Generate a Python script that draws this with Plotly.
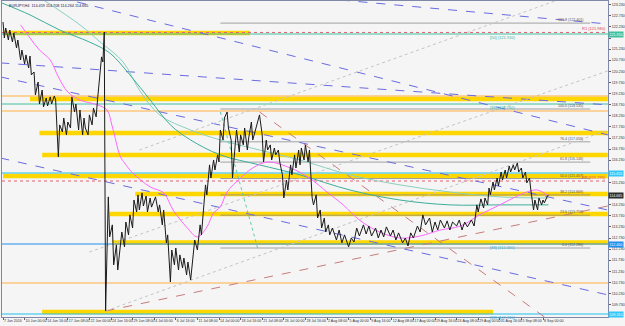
import plotly.graph_objects as go

# ---------------- data ----------------
# x axis: H4 bar index (0 = 7 Jun 2016), labels every 16 bars
x_tick_bars = [0, 16, 32, 48, 64, 80, 96, 112, 128, 144, 160, 176, 192, 208, 224,
               240, 256, 272, 288, 304, 320, 336, 352, 368, 384, 400]
x_tick_text = ["7 Jun 2016", "10 Jun 00:00", "14 Jun 16:00", "17 Jun 08:00", "22 Jun 00:00",
               "24 Jun 16:00", "29 Jun 08:00", "4 Jul 00:00", "6 Jul 16:00", "11 Jul 08:00",
               "14 Jul 00:00", "18 Jul 16:00", "21 Jul 08:00", "26 Jul 00:00", "28 Jul 16:00",
               "2 Aug 08:00", "5 Aug 00:00", "9 Aug 16:00", "12 Aug 08:00", "17 Aug 00:00",
               "19 Aug 16:00", "24 Aug 08:00", "29 Aug 00:00", "31 Aug 16:00", "5 Sep 08:00",
               "8 Sep 00:00"]
y_tick_vals = [123.230, 122.730, 122.230, 121.730, 121.230, 120.730, 120.230, 119.730,
               119.230, 118.730, 118.230, 117.730, 117.230, 116.730, 116.230, 115.730,
               115.230, 114.730, 114.230, 113.730, 113.230, 112.730, 112.230, 111.730,
               111.230, 110.730, 110.230, 109.730]

# EURJPY H4 price path (swing highs / lows)
price_bar = [0, 1, 2, 4, 5, 7, 8, 10, 11, 13, 14, 16, 17, 19, 20, 21, 23, 24, 26, 27, 29, 30, 32, 33,
             35, 36, 38, 39, 41, 42, 44, 45, 47, 48, 50, 51, 53, 54, 56, 57, 59, 60, 61, 63, 64, 66,
             67, 69, 70, 72, 73, 74, 75, 76, 77, 78, 79, 81, 82, 84, 85, 87, 88, 90, 91, 93, 94, 96,
             97, 99, 100, 101, 103, 104, 106, 107, 109, 110, 113, 115, 116, 118, 119, 121, 122, 124,
             125, 127, 128, 130, 131, 133, 134, 136, 137, 139, 140, 142, 144, 146, 147, 149, 150, 151,
             153, 154, 156, 157, 159, 160, 161, 163, 164, 166, 167, 169, 170, 172, 173, 175, 176, 178,
             179, 181, 182, 184, 185, 187, 189, 190, 192, 193, 195, 196, 198, 199, 201, 202, 204, 205,
             207, 208, 210, 211, 213, 214, 216, 217, 219, 220, 221, 223, 224, 226, 227, 229, 230, 232,
             233, 235, 236, 238, 239, 241, 242, 244, 247, 249, 251, 253, 256, 258, 260, 262, 264, 267,
             269, 271, 273, 276, 278, 280, 282, 284, 287, 289, 291, 293, 296, 298, 300, 302, 304, 307,
             309, 311, 313, 316, 318, 320, 322, 324, 327, 329, 331, 333, 336, 338, 340, 342, 344, 347,
             349, 351, 352, 354, 356, 357, 359, 360, 361, 363, 364, 366, 367, 369, 370, 372, 373, 375,
             376, 378, 379, 381, 382, 384, 385, 387, 388, 390, 391, 393, 394, 396, 397, 399, 400, 401,
             403, 404]
price_val = [122.45, 121.73, 122.18, 121.64, 122.09, 121.55, 121.96, 121.28, 121.64, 120.74, 121.19,
             120.56, 120.97, 120.38, 120.92, 120.07, 120.20, 119.17, 119.75, 118.76, 119.39, 118.63,
             119.03, 118.67, 119.08, 118.76, 119.12, 118.94, 116.38, 117.82, 117.50, 118.13, 117.37,
             117.95, 117.68, 119.08, 118.40, 118.76, 117.59, 118.49, 117.37, 118.13, 117.68, 117.37,
             118.27, 117.82, 118.58, 118.18, 118.94, 120.29, 120.88, 120.65, 122.00, 109.45, 112.19,
             114.58, 112.78, 113.32, 111.52, 112.42, 111.29, 112.64, 113.00, 112.33, 113.45, 112.87,
             113.77, 113.18, 114.44, 113.90, 114.67, 113.99, 114.76, 114.17, 114.62, 113.90, 114.53,
             114.12, 114.58, 113.90, 114.22, 113.32, 113.99, 112.51, 112.87, 110.75, 112.19, 111.52,
             112.28, 111.29, 111.97, 111.38, 111.83, 111.07, 111.65, 110.84, 111.52, 112.64, 112.19,
             113.32, 112.87, 114.22, 115.12, 114.67, 116.02, 115.43, 116.24, 115.79, 116.47, 116.15,
             117.59, 117.14, 118.13, 118.40, 117.68, 117.14, 115.43, 116.92, 117.59, 116.60, 117.37,
             116.92, 117.68, 116.69, 117.23, 117.95, 117.14, 117.59, 118.13, 118.27, 117.37, 116.15,
             117.14, 116.69, 116.92, 116.24, 116.78, 116.47, 116.69, 116.15, 115.57, 114.53, 115.34,
             114.89, 116.02, 115.57, 116.47, 115.88, 116.69, 116.02, 116.78, 116.24, 116.92, 116.15,
             116.69, 114.53, 114.22, 114.67, 113.63, 113.99, 113.18, 113.63, 113.00, 113.32, 112.87,
             113.18, 112.64, 113.09, 112.51, 112.87, 112.33, 112.73, 112.55, 113.18, 112.82, 113.32,
             112.91, 113.27, 112.82, 113.18, 112.73, 113.09, 112.78, 113.23, 112.82, 113.09, 112.64,
             112.96, 112.51, 112.73, 112.37, 112.96, 112.73, 113.27, 113.00, 113.77, 113.32, 113.63,
             113.00, 113.45, 113.09, 113.54, 113.18, 113.50, 113.09, 113.45, 113.27, 113.54, 113.09,
             113.45, 113.23, 113.54, 113.27, 114.22, 113.90, 114.49, 114.08, 114.53, 114.22, 114.98,
             114.67, 115.25, 114.89, 115.43, 115.07, 115.70, 115.34, 115.79, 115.43, 115.97, 115.70,
             116.02, 115.79, 116.11, 115.70, 115.88, 115.43, 115.70, 115.21, 115.43, 114.89, 113.99,
             114.44, 113.99, 114.53, 114.22, 114.44, 114.31, 114.58, 114.67]

# moving averages
ma_pink_bar = [13, 20, 27, 35, 41, 48, 57, 70, 77, 81, 87, 90, 96, 109, 119, 126, 136, 144, 151, 156,
               161, 166, 176, 185, 196, 213, 227, 240, 252, 264, 279, 294, 309, 324, 339, 353, 368,
               378, 388, 396, 403]
ma_pink_val = [122.32, 121.73, 121.19, 120.74, 119.98, 119.30, 118.94, 118.72, 118.49, 117.73, 116.38,
               116.11, 115.66, 115.03, 114.76, 113.99, 113.22, 112.78, 113.22, 113.86, 114.13, 114.80,
               115.43, 115.88, 116.15, 115.88, 115.43, 114.80, 114.22, 113.54, 113.00, 112.73, 112.82,
               113.09, 113.27, 113.77, 114.22, 114.53, 114.80, 114.89, 114.67]
ma_teal1_bar = [-1, 20, 42, 64, 79, 94, 109, 124, 139, 161, 190, 220, 257, 294, 331, 368, 404]
ma_teal1_val = [123.31, 122.77, 122.09, 121.55, 121.06, 120.07, 118.94, 117.82, 117.14, 116.47, 116.02,
                115.57, 114.89, 114.44, 114.22, 114.22, 114.22]
ma_teal2_bar = [30, 57, 72, 89, 101, 116, 139, 161, 190, 220, 257, 294, 331, 368, 404]
ma_teal2_val = [123.44, 122.32, 121.55, 120.65, 119.39, 118.27, 117.59, 117.14, 116.69, 116.24, 115.57,
                115.12, 114.80, 114.58, 114.53]

# support / resistance zones (yellow): price, start bar, end bar
zone_price = [121.955, 118.985, 117.455, 116.465, 115.520, 114.710, 113.810, 112.530, 109.400]
zone_start = [0, 20, 27, 29, 0, 98, 79, 81, 29]
zone_end = [183, 448, 448, 448, 448, 448, 448, 448, 363]

# thin horizontal lines
orange_levels = [119.12, 118.445, 110.705]
teal_levels = [121.91, 118.76]
cyan_levels = [115.655, 109.31]
blue_levels = [112.46]
pivot_levels = [121.98, 115.295]
pivot_names = ["R1", "PP"]

# Fibonacci retracement
fib_low, fib_high = 112.28, 118.535
fib_levels = [0.0, 23.6, 38.2, 50.0, 61.8, 76.4, 100.0, 161.8]
fib_start, fib_end = 161, 435

# trend lines: (bar0, price0, bar1, price1)
blue_trend = [(55, 123.35, 448, 117.37), (250, 123.44, 448, 122.36), (-2, 120.61, 448, 118.72),
              (-2, 119.98, 448, 113.99), (-2, 116.33, 448, 110.17)]
brown_trend = [(76, 109.445, 448, 114.17), (190, 118.40, 401, 109.18)]
grey_trend = [(101, 116.69, 411, 123.44), (64, 112.10, 448, 120.25), (76, 109.445, 448, 117.59)]
teal_trend = [(161, 118.40, 189, 112.19)]

last_price = 114.665
header = "EURJPY,H4  114.459 114.708 114.264 114.665"

# ---------------- figure ----------------
FONT = "Liberation Sans"
fig = go.Figure()


def seg(x0, y0, x1, y1, color, width, dash="solid"):
    fig.add_trace(go.Scatter(x=[x0, x1], y=[y0, y1], mode="lines",
                             line=dict(color=color, width=width, dash=dash),
                             hoverinfo="skip", showlegend=False))


XMIN, XMAX = -0.74, 448.15
for p, a, b in zip(zone_price, zone_start, zone_end):
    seg(a, p, b, p, "#FFD700", 4.5)
for p in orange_levels:
    seg(XMIN, p, XMAX, p, "#FFAF40", 1)
for p in teal_levels:
    seg(XMIN, p, XMAX, p, "#40C0A0", 1)
for p in cyan_levels:
    seg(XMIN, p, XMAX, p, "#20C0F0", 1.2)
for p in blue_levels:
    seg(XMIN, p, XMAX, p, "#2090F0", 1.2)
for p in pivot_levels:
    seg(XMIN, p, XMAX, p, "#E06070", 1, "dot")

rng = fib_high - fib_low
for lv in fib_levels:
    p = fib_low + rng * lv / 100
    seg(fib_start, p, fib_end, p, "#8C8C8C", 0.8)

for t in blue_trend:
    seg(*t, "#6A6AE0", 1, "dash")
for t in brown_trend:
    seg(*t, "#C87C7C", 1, "dash")
for t in grey_trend:
    seg(*t, "#C4C4C4", 1, "dot")
for t in teal_trend:
    seg(*t, "#60C8B0", 1, "dot")

fig.add_trace(go.Scatter(x=ma_teal2_bar, y=ma_teal2_val, mode="lines", line=dict(color="#8CCFC0", width=1),
                         line_shape="spline", hoverinfo="skip", showlegend=False))
fig.add_trace(go.Scatter(x=ma_teal1_bar, y=ma_teal1_val, mode="lines", line=dict(color="#3DAE98", width=1),
                         line_shape="spline", hoverinfo="skip", showlegend=False))
fig.add_trace(go.Scatter(x=ma_pink_bar, y=ma_pink_val, mode="lines", line=dict(color="#FF66FF", width=1),
                         line_shape="spline", hoverinfo="skip", showlegend=False))

fig.add_trace(go.Scatter(x=price_bar, y=price_val, mode="lines", line=dict(color="#1A1A1A", width=1),
                         hoverinfo="skip", showlegend=False))

ann = []
fs = 3.6
for lv in fib_levels:
    p = fib_low + rng * lv / 100
    ann.append(dict(x=fib_end - 4, y=p, xref="x", yref="y", xanchor="right", yanchor="bottom",
                    text=f"{lv:.1f} ({p:.3f})", showarrow=False, yshift=-1,
                    font=dict(size=fs, color="#555555", family=FONT)))
for p, n in zip(pivot_levels, pivot_names):
    ann.append(dict(x=XMAX, y=p, xref="x", yref="y", xanchor="right", yanchor="bottom",
                    text=f"{n} ({p:.3f})", showarrow=False, yshift=-1,
                    font=dict(size=fs + 0.4, color="#E04050", family=FONT)))
for p, tag in zip(teal_levels, ["[50]", "[38]"]):
    ann.append(dict(x=370, y=p, xref="x", yref="y", xanchor="center", yanchor="top",
                    text=f"{tag} ({p:.3f})", showarrow=False, yshift=1,
                    font=dict(size=fs + 0.4, color="#3DB89E", family=FONT)))
for p in blue_levels + cyan_levels[1:]:
    ann.append(dict(x=370, y=p, xref="x", yref="y", xanchor="center", yanchor="top",
                    text=f"[38] ({p:.3f})", showarrow=False, yshift=1,
                    font=dict(size=fs + 0.4, color="#30B0E0", family=FONT)))

# price boxes on the right scale
boxes = [(teal_levels[0], "#40C0A0", "white"), (cyan_levels[0], "#30C8F8", "white"),
         (last_price, "#2C2C2C", "white"), (blue_levels[0], "#2090F0", "white"),
         (cyan_levels[1], "#30C8F8", "white")]
box_prices = [b[0] for b in boxes]
for p, bg, fc in boxes:
    ann.append(dict(x=1, y=p, xref="paper", yref="y", xanchor="left", yanchor="middle",
                    text=f"{p:.3f}", showarrow=False, bgcolor=bg, borderpad=0.5, xshift=0,
                    font=dict(size=fs, color=fc, family=FONT)))

# hide scale labels that a price box covers (as the terminal does)
y_tick_text = [("" if any(abs(v - b) < 0.2 for b in box_prices) else f"{v:.3f}") for v in y_tick_vals]

ann.append(dict(x=0, y=1, xref="paper", yref="paper", xanchor="left", yanchor="top",
                text=header, showarrow=False, xshift=5, yshift=-1,
                font=dict(size=fs + 0.2, color="#202050", family=FONT)))

fig.update_layout(
    width=625, height=326,
    margin=dict(l=2, r=17, t=1, b=9),
    paper_bgcolor="#F5F5F5", plot_bgcolor="#F5F5F5",
    showlegend=False,
    annotations=ann,
    xaxis=dict(range=[XMIN, XMAX], tickvals=x_tick_bars, ticktext=x_tick_text, tickangle=0,
               showgrid=False, zeroline=False, showline=True, mirror=True,
               linecolor="#8088A8", linewidth=1, ticks="outside", ticklen=2, tickcolor="#606060",
               ticklabelposition="outside right",
               tickfont=dict(size=fs, color="#303030", family=FONT)),
    yaxis=dict(range=[109.175, 123.395], side="right", tickvals=y_tick_vals,
               ticktext=y_tick_text,
               showgrid=False, zeroline=False, showline=True, mirror=True,
               linecolor="#8088A8", linewidth=1, ticks="outside", ticklen=2, tickcolor="#606060",
               tickfont=dict(size=fs, color="#303030", family=FONT)),
)

fig.write_html("out.html")
